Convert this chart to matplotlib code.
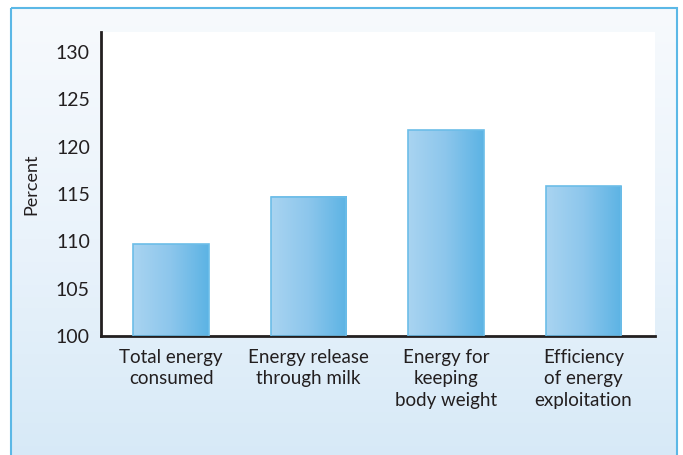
import matplotlib.pyplot as plt
import numpy as np
from matplotlib.patches import Rectangle
from matplotlib.colors import LinearSegmentedColormap

categories = ["Total energy\nconsumed", "Energy release\nthrough milk",
              "Energy for\nkeeping\nbody weight", "Efficiency\nof energy\nexploitation"]
values = [109.7, 114.7, 121.7, 115.8]
yticks = [100, 105, 110, 115, 120, 125, 130]

plt.rcParams['font.family'] = ['Lato', 'DejaVu Sans']
textcol = '#231f20'

fig = plt.figure(figsize=(6.83, 4.55), dpi=100)

# panel background: soft vertical gradient inside a thin blue frame
bg = fig.add_axes([0, 0, 1, 1], zorder=0)
bg.set_xlim(0, 683)
bg.set_ylim(455, 0)
bg.axis('off')
grad = np.linspace(0, 1, 256).reshape(-1, 1)
bgcmap = LinearSegmentedColormap.from_list('bg', ['#f7fafd', '#eaf3fb', '#d6e9f7'])
bg.imshow(grad, cmap=bgcmap, aspect='auto', extent=[11, 677, 470, 8], zorder=0)
bg.add_patch(Rectangle((11, 8), 666, 470, fill=False, edgecolor='#5bb8e6', lw=1.5, zorder=1))

ax = fig.add_axes([101 / 683, 1 - 336 / 455, 554 / 683, 304 / 455], zorder=1)
ax.set_facecolor('white')

x = np.arange(len(categories))
width = 0.55
barcmap = LinearSegmentedColormap.from_list('bar', ['#a9d4f1', '#8cc6ec', '#5cb3e4'])
ramp = np.linspace(0, 1, 128).reshape(1, -1)
for xi, v in zip(x, values):
    ax.imshow(ramp, cmap=barcmap, aspect='auto', zorder=2,
              extent=[xi - width / 2, xi + width / 2, 100, v])
    ax.bar(xi, v - 100, width, bottom=100, facecolor='none',
           edgecolor='#6cbde8', linewidth=1.2, zorder=3)

ax.set_xlim(-0.51, 3.52)
ax.set_ylim(100, 132.1)
ax.set_yticks(yticks)
ax.set_yticklabels([str(t) for t in yticks], fontsize=14, color=textcol)
ax.set_xticks(x)
ax.set_xticklabels(categories, fontsize=13.5, color=textcol, linespacing=1.35, va='top')
ax.tick_params(axis='both', length=0)
ax.tick_params(axis='y', pad=8)
ax.tick_params(axis='x', pad=9)
for s in ['top', 'right']:
    ax.spines[s].set_visible(False)
for s in ['left', 'bottom']:
    ax.spines[s].set_color(textcol)
    ax.spines[s].set_linewidth(2)
ax.set_ylabel('Percent', fontsize=13, color=textcol, labelpad=12)

fig.savefig('out.png', dpi=100)
